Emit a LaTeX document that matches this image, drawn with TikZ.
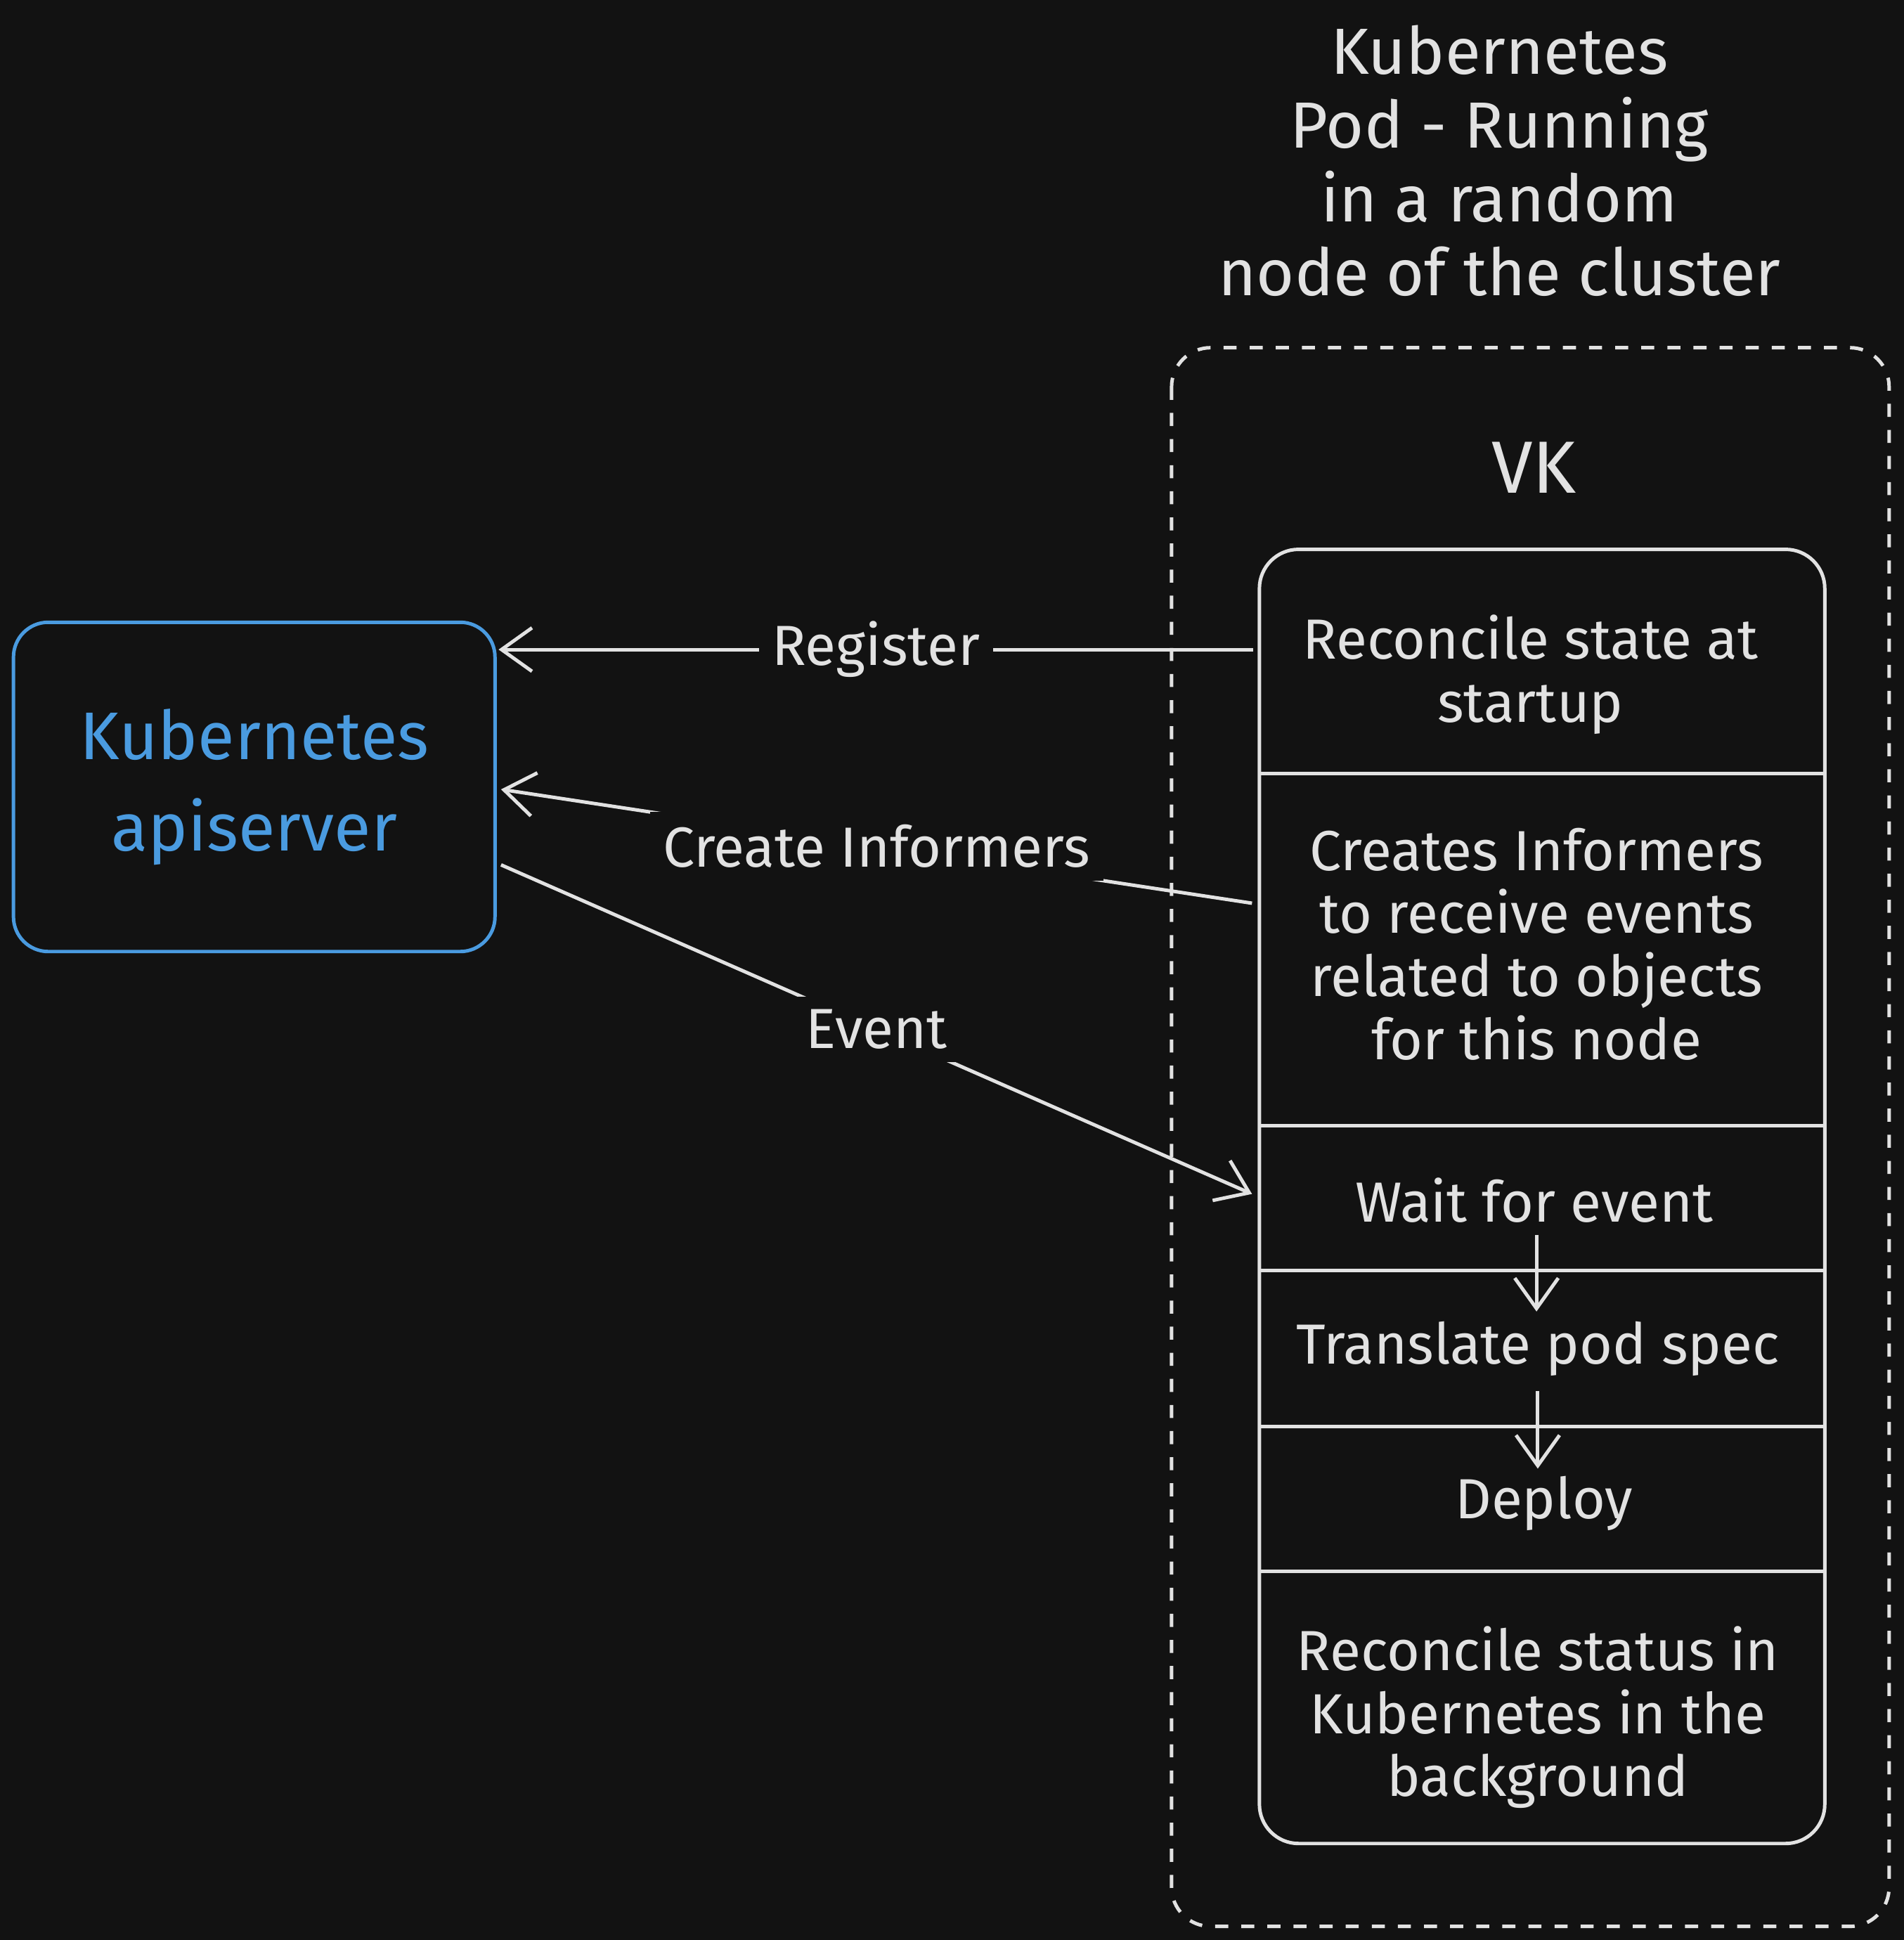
\documentclass[tikz,border=0pt]{standalone}
\usepackage{fontspec}
\setmainfont{Fira Sans}
\usetikzlibrary{arrows.meta}
\definecolor{bg}{HTML}{121212}
\definecolor{ink}{HTML}{E2E2E2}
\definecolor{apiblue}{HTML}{4A9BE0}
\tikzset{
  stage/.style = {text = ink, align = center, font = \fontsize{13}{14.5}\selectfont},
  lbl/.style = {fill = bg, text = ink, inner sep = 3pt, font = \fontsize{13}{15}\selectfont},
  flow/.style = {draw = ink, thick, -{Straight Barb[length=7pt, width=10pt]}},
}
\begin{document}
\begin{tikzpicture}[x = 0.01cm, y = -0.01cm]
\fill[bg] (0, 0) rectangle (1539, 1568);
\useasboundingbox (0, 0) rectangle (1539, 1568);

%%% Title
\node[text = ink, align = center, font = \fontsize{15}{17}\selectfont] (title) at (1212, 130)
  {Kubernetes\\Pod - Running\\in a random\\node of the cluster};

%%% Virtual kubelet
\draw[ink, thick, dashed, rounded corners = 9pt] (947, 281) rectangle (1527, 1557);
\node[text = ink, font = \fontsize{17}{20}\selectfont] (vk) at (1240, 378) {VK};
\draw[ink, thick, rounded corners = 9pt] (1018, 444) rectangle (1475, 1490);
\foreach \y in {625, 910, 1027, 1153, 1270}
  \draw[ink, thick] (1018, \y) -- (1475, \y);

\node[stage] (reconcile) at (1237, 545) {Reconcile state at\\startup};
\node[stage] (informers) at (1242, 763) {Creates Informers\\to receive events\\related to objects\\for this node};
\node[stage] (wait) at (1240, 970) {Wait for event};
\node[stage] (translate) at (1243, 1090) {Translate pod spec};
\node[stage] (deploy) at (1248, 1215) {Deploy};
\node[stage] (status) at (1243, 1388) {Reconcile status in\\Kubernetes in the\\background};

\draw[flow] (1242, 998) -- (1242, 1060);
\draw[flow] (1243, 1124) -- (1243, 1187);

%%% apiserver
\node[draw = apiblue, thick, rounded corners = 8pt, minimum width = 3.89cm, minimum height = 2.66cm,
  text = apiblue, align = center, font = \fontsize{15.5}{21}\selectfont] (api) at (205.5, 636)
  {Kubernetes\\apiserver};

\coordinate (regA) at (1013, 525);
\coordinate (infA) at (1012, 730);
\coordinate (evtA) at (1012, 965);

\draw[flow] (regA) -- (403, 525) node[lbl, pos = 0.5] {Register};
\draw[flow] (infA) -- (405, 638) node[lbl, pos = 0.5] {Create Informers};
\draw[flow] (405, 699) -- (evtA) node[lbl, pos = 0.5] {Event};

\end{tikzpicture}
\end{document}
